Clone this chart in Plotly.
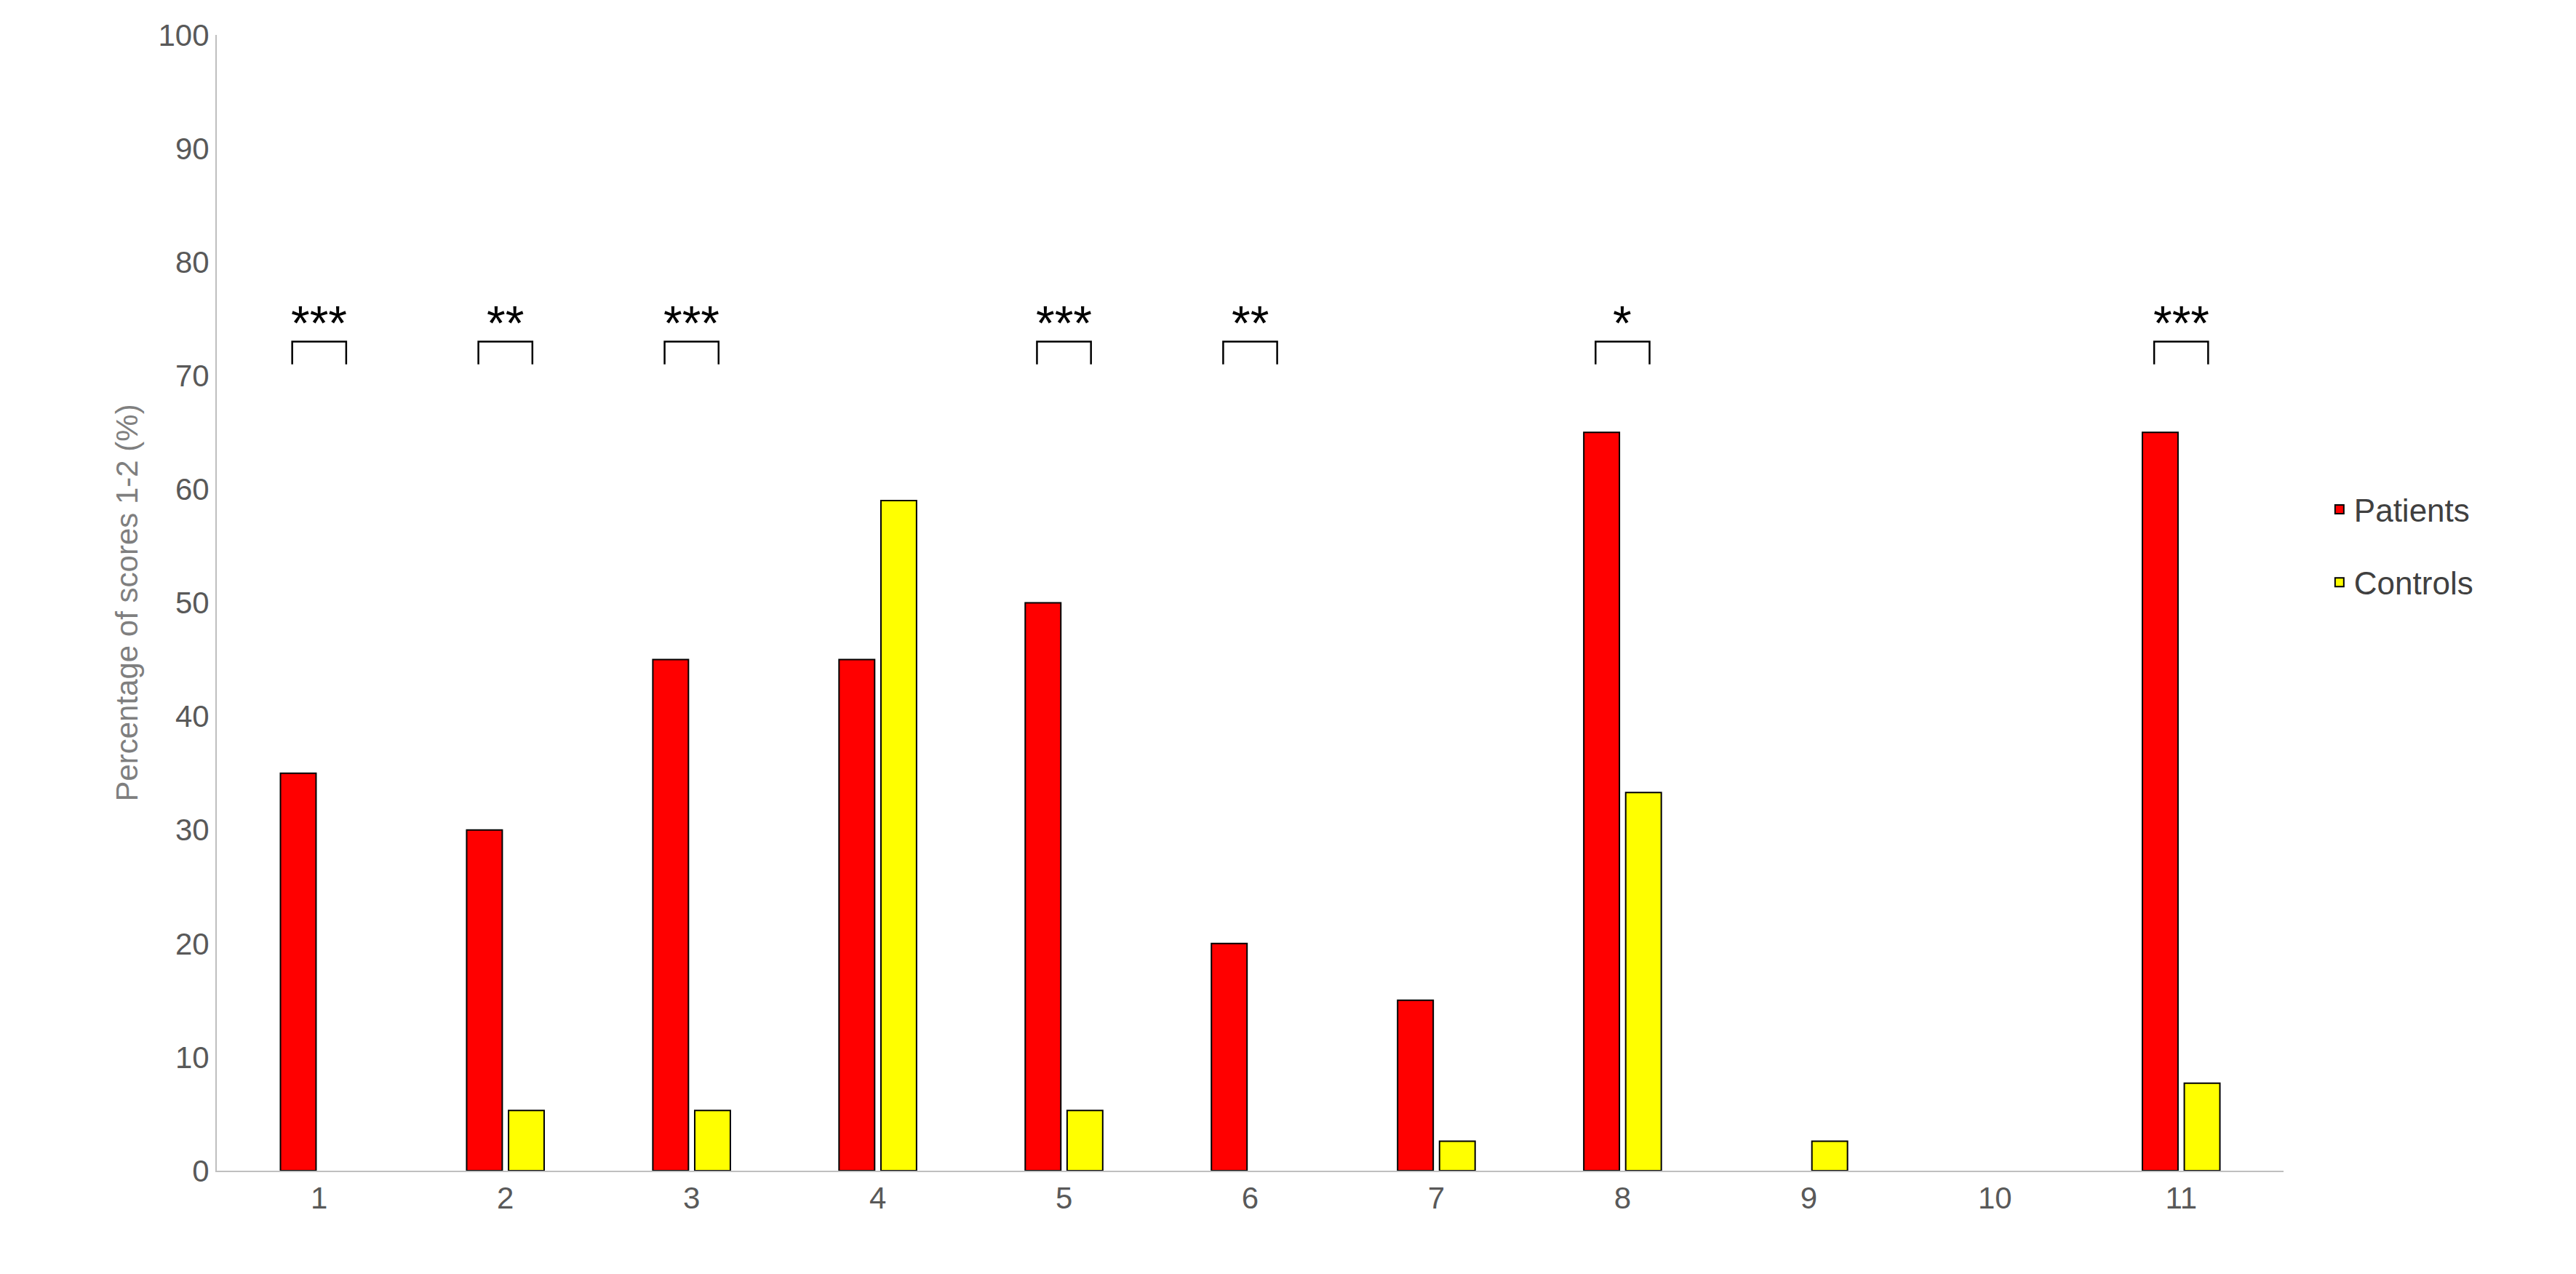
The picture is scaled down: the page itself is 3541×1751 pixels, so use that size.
import plotly.graph_objects as go

categories = [1,2,3,4,5,6,7,8,9,10,11]
patients = [35,30,45,45,50,20,15,65,None,None,65]
controls = [None,5.3,5.3,59,5.3,None,2.6,33.3,2.6,None,7.7]
sig_cats = [1,2,3,5,6,8,11]
sig_labels = ["***","**","***","***","**","*","***"]

fig = go.Figure()
fig.add_bar(x=categories, y=patients, name="Patients", legendgroup="p",
            marker=dict(color="#ff0000", line=dict(color="black", width=2)))
fig.add_bar(x=categories, y=controls, name="Controls", legendgroup="c",
            marker=dict(color="#ffff00", line=dict(color="black", width=2)))

off = 0.115
for c, s in zip(sig_cats, sig_labels):
    fig.add_shape(type="path", xref="x", yref="y",
                  path=f"M {c-off-0.03},71 L {c-off-0.03},73 L {c+off+0.03},73 L {c+off+0.03},71",
                  line=dict(color="black", width=2.5))
    fig.add_annotation(x=c, y=73, text=s, showarrow=False, yanchor="bottom", yshift=-14,
                       font=dict(size=66, color="black", family="Liberation Sans"))

fig.update_layout(
    width=3541, height=1751, plot_bgcolor="white", paper_bgcolor="white",
    barmode="group", bargap=0.55, bargroupgap=0.15,
    margin=dict(l=290, r=410, t=40, b=150),
    font=dict(family="Liberation Sans", size=42, color="#595959"),
    legend=dict(x=1.02, y=0.55, yanchor="middle", font=dict(size=44, color="#404040"),
                tracegroupgap=40, itemsizing="constant"),
    xaxis=dict(tickmode="array", tickvals=categories, range=[0.45, 11.55], showline=True,
               linecolor="#bfbfbf", linewidth=2, ticks="", showgrid=False, zeroline=False),
    yaxis=dict(range=[0, 100], dtick=10, showline=True, linecolor="#bfbfbf", linewidth=2,
               showgrid=False, zeroline=False, ticks="",
               title=dict(text="Percentage of scores 1-2 (%)", font=dict(size=42, color="#7f7f7f"))),
)
fig.write_html("out.html")
